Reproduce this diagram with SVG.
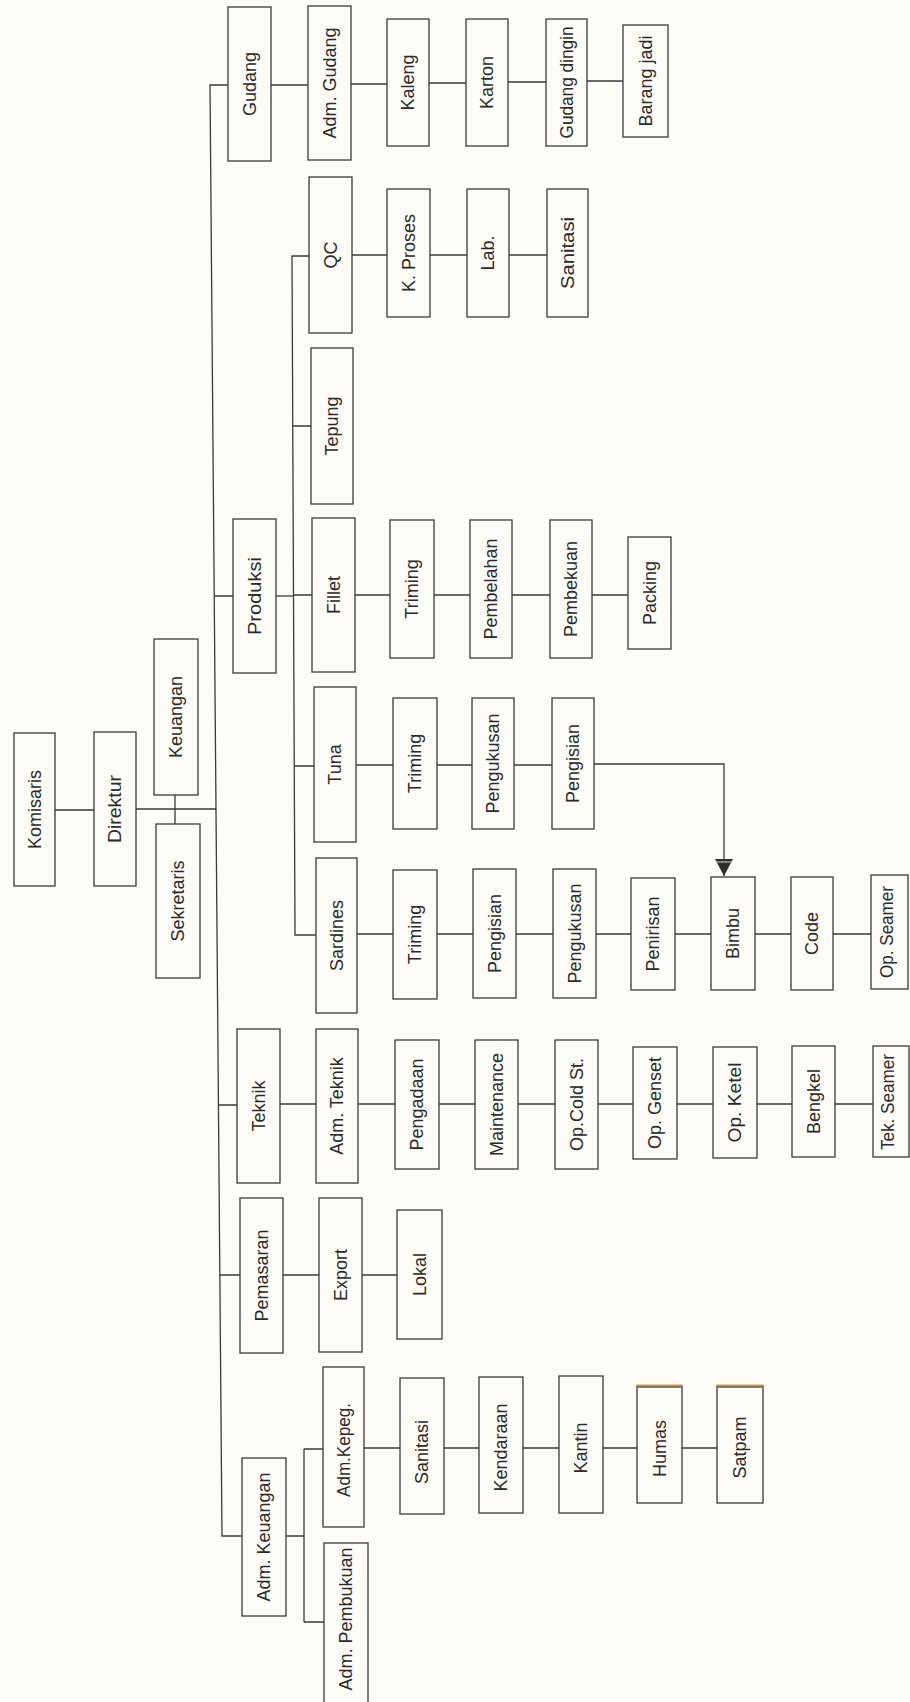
<svg xmlns="http://www.w3.org/2000/svg" width="910" height="1702" viewBox="0 0 910 1702">
<defs>
<style>
.bg{fill:#fdfcf7}
.n rect{fill:#fdfcf7;stroke:#3a3a3a;stroke-width:1.3}
.n text{font-family:"Liberation Sans",Arial,sans-serif;font-size:18px;fill:#2a2a2a;text-anchor:middle}
.c{fill:none;stroke:#3a3a3a;stroke-width:1.3}
</style>
<marker id="arr" markerUnits="userSpaceOnUse" markerWidth="20" markerHeight="20" refX="9" refY="18" orient="0" viewBox="0 0 18 20">
<path d="M0,1 H18 L9,18 Z" fill="#2e2e2e"/>
<path d="M1,4 H17" stroke="#fdfcf7" stroke-width="0.8"/>
</marker>
</defs>
<rect class="bg" x="0" y="0" width="910" height="1702"/>

<g id="connectors">
<path class="c" d="M228,85 H210 L222,1536 H242"/>
<path class="c" d="M214,596 H233 M136,809 H216 M218.4,1105 H237 M219.8,1275 H240"/>
<path class="c" d="M55,810 H94 M175,795 V824"/>
<path class="c" d="M271,85 H308 M351,84 H387 M429,83 H466 M508,82 H546 M587,81 H623"/>
<path class="c" d="M276,596 H293.5"/>
<path class="c" d="M309,256 H292 L295,935 H316 M292.5,426 H311 M293.5,595 H312 M294.2,766 H314"/>
<path class="c" d="M352,255 H387 M430,255 H467 M509,255 H547"/>
<path class="c" d="M355,595 H390 M434,595 H470 M512,595 H550 M592,595 H628"/>
<path class="c" d="M356,765 H393 M437,765 H472 M514,765 H552"/>
<path class="c" d="M594,764 H724 V876" marker-end="url(#arr)"/>
<path class="c" d="M357,934 H393 M437,934 H473 M516,934 H553 M596,934 H631 M675,934 H711 M755,934 H791 M833,934 H871"/>
<path class="c" d="M280,1104 H316 M358,1104 H395 M439,1104 H475 M518,1104 H555 M598,1104 H633 M677,1104 H713 M757,1104 H792 M835,1104 H873"/>
<path class="c" d="M283,1275 H319 M362,1275 H397"/>
<path class="c" d="M286,1536 H304 M304,1449 V1622 M304,1449 H323 M304,1622 H324"/>
<path class="c" d="M364,1448 H400 M444,1448 H479 M523,1448 H559 M603,1448 H637 M682,1448 H717"/>
</g>

<g id="komisaris" class="n"><rect x="14" y="733" width="41" height="153"/><text transform="translate(34.5,809.5) rotate(-90)" y="6">Komisaris</text></g>
<g id="direktur" class="n"><rect x="94" y="732" width="42" height="154"/><text transform="translate(115,809) rotate(-90)" y="6" textLength="68" lengthAdjust="spacingAndGlyphs">Direktur</text></g>
<g id="keuangan" class="n"><rect x="154" y="639" width="44" height="156"/><text transform="translate(176,717) rotate(-90)" y="6">Keuangan</text></g>
<g id="sekretaris" class="n"><rect x="156" y="824" width="44" height="154"/><text transform="translate(178,901) rotate(-90)" y="6">Sekretaris</text></g>

<g id="gudang" class="n"><rect x="228" y="7" width="43" height="154"/><text transform="translate(249.5,84) rotate(-90)" y="6">Gudang</text></g>
<g id="produksi" class="n"><rect x="233" y="519" width="43" height="154"/><text transform="translate(254.5,596) rotate(-90)" y="6" textLength="78" lengthAdjust="spacingAndGlyphs">Produksi</text></g>
<g id="teknik" class="n"><rect x="237" y="1029" width="43" height="154"/><text transform="translate(258.5,1106) rotate(-90)" y="6">Teknik</text></g>
<g id="pemasaran" class="n"><rect x="240" y="1198" width="43" height="155"/><text transform="translate(261.5,1275.5) rotate(-90)" y="6">Pemasaran</text></g>
<g id="adm-keuangan" class="n"><rect x="242" y="1458" width="44" height="158"/><text transform="translate(264,1537) rotate(-90)" y="6">Adm. Keuangan</text></g>

<g id="adm-gudang" class="n"><rect x="308" y="6" width="43" height="154"/><text transform="translate(329.5,83) rotate(-90)" y="6">Adm. Gudang</text></g>
<g id="kaleng" class="n"><rect x="387" y="19" width="42" height="127"/><text transform="translate(408,82.5) rotate(-90)" y="6">Kaleng</text></g>
<g id="karton" class="n"><rect x="466" y="19" width="42" height="127"/><text transform="translate(487,82.5) rotate(-90)" y="6">Karton</text></g>
<g id="gudang-dingin" class="n"><rect x="546" y="19" width="41" height="127"/><text transform="translate(566.5,82.5) rotate(-90)" y="6" textLength="112" lengthAdjust="spacingAndGlyphs">Gudang dingin</text></g>
<g id="barang-jadi" class="n"><rect x="623" y="25" width="45" height="112"/><text transform="translate(645.5,81) rotate(-90)" y="6">Barang jadi</text></g>

<g id="qc" class="n"><rect x="309" y="177" width="43" height="156"/><text transform="translate(330.5,255) rotate(-90)" y="6">QC</text></g>
<g id="k-proses" class="n"><rect x="387" y="189" width="43" height="128"/><text transform="translate(408.5,253) rotate(-90)" y="6">K. Proses</text></g>
<g id="lab" class="n"><rect x="467" y="189" width="42" height="128"/><text transform="translate(488,253) rotate(-90)" y="6">Lab.</text></g>
<g id="sanitasi-qc" class="n"><rect x="547" y="189" width="41" height="128"/><text transform="translate(567.5,253) rotate(-90)" y="6" textLength="72" lengthAdjust="spacingAndGlyphs">Sanitasi</text></g>

<g id="tepung" class="n"><rect x="311" y="348" width="42" height="156"/><text transform="translate(332,426) rotate(-90)" y="6">Tepung</text></g>

<g id="fillet" class="n"><rect x="312" y="518" width="43" height="154"/><text transform="translate(333.5,595) rotate(-90)" y="6">Fillet</text></g>
<g id="fillet-triming" class="n"><rect x="390" y="520" width="44" height="138"/><text transform="translate(412,589) rotate(-90)" y="6">Triming</text></g>
<g id="pembelahan" class="n"><rect x="470" y="520" width="42" height="138"/><text transform="translate(491,589) rotate(-90)" y="6">Pembelahan</text></g>
<g id="pembekuan" class="n"><rect x="550" y="520" width="42" height="138"/><text transform="translate(571,589) rotate(-90)" y="6">Pembekuan</text></g>
<g id="packing" class="n"><rect x="628" y="537" width="43" height="112"/><text transform="translate(649.5,593) rotate(-90)" y="6">Packing</text></g>

<g id="tuna" class="n"><rect x="314" y="687" width="42" height="155"/><text transform="translate(335,764.5) rotate(-90)" y="6">Tuna</text></g>
<g id="tuna-triming" class="n"><rect x="393" y="698" width="44" height="131"/><text transform="translate(415,763.5) rotate(-90)" y="6">Triming</text></g>
<g id="tuna-pengukusan" class="n"><rect x="472" y="698" width="42" height="131"/><text transform="translate(493,763.5) rotate(-90)" y="6">Pengukusan</text></g>
<g id="tuna-pengisian" class="n"><rect x="552" y="698" width="42" height="131"/><text transform="translate(573,763.5) rotate(-90)" y="6">Pengisian</text></g>

<g id="sardines" class="n"><rect x="316" y="858" width="41" height="155"/><text transform="translate(336.5,935.5) rotate(-90)" y="6">Sardines</text></g>
<g id="sardines-triming" class="n"><rect x="393" y="870" width="44" height="129"/><text transform="translate(415,934.5) rotate(-90)" y="6">Triming</text></g>
<g id="sardines-pengisian" class="n"><rect x="473" y="869" width="43" height="129"/><text transform="translate(494.5,933.5) rotate(-90)" y="6">Pengisian</text></g>
<g id="sardines-pengukusan" class="n"><rect x="553" y="869" width="43" height="129"/><text transform="translate(574.5,933.5) rotate(-90)" y="6">Pengukusan</text></g>
<g id="penirisan" class="n"><rect x="631" y="878" width="44" height="112"/><text transform="translate(653,934) rotate(-90)" y="6">Penirisan</text></g>
<g id="bimbu" class="n"><rect x="711" y="877" width="44" height="113"/><text transform="translate(733,933.5) rotate(-90)" y="6">Bimbu</text></g>
<g id="code" class="n"><rect x="791" y="877" width="42" height="113"/><text transform="translate(812,933.5) rotate(-90)" y="6">Code</text></g>
<g id="op-seamer" class="n"><rect x="871" y="875" width="37" height="114"/><text transform="translate(887,932) rotate(-90)" y="6" textLength="92" lengthAdjust="spacingAndGlyphs">Op. Seamer</text></g>

<g id="adm-teknik" class="n"><rect x="316" y="1029" width="42" height="154"/><text transform="translate(337,1106) rotate(-90)" y="6">Adm. Teknik</text></g>
<g id="pengadaan" class="n"><rect x="395" y="1040" width="44" height="129"/><text transform="translate(417,1104.5) rotate(-90)" y="6">Pengadaan</text></g>
<g id="maintenance" class="n"><rect x="475" y="1040" width="43" height="129"/><text transform="translate(496.5,1104.5) rotate(-90)" y="6">Maintenance</text></g>
<g id="op-cold-st" class="n"><rect x="555" y="1040" width="43" height="129"/><text transform="translate(576.5,1104.5) rotate(-90)" y="6">Op.Cold St.</text></g>
<g id="op-genset" class="n"><rect x="633" y="1047" width="44" height="112"/><text transform="translate(655,1103) rotate(-90)" y="6">Op. Genset</text></g>
<g id="op-ketel" class="n"><rect x="713" y="1047" width="44" height="111"/><text transform="translate(735,1102.5) rotate(-90)" y="6" textLength="80" lengthAdjust="spacingAndGlyphs">Op. Ketel</text></g>
<g id="bengkel" class="n"><rect x="792" y="1046" width="43" height="111"/><text transform="translate(813.5,1101.5) rotate(-90)" y="6">Bengkel</text></g>
<g id="tek-seamer" class="n"><rect x="873" y="1046" width="36" height="111"/><text transform="translate(888,1102) rotate(-90)" y="6" textLength="96" lengthAdjust="spacingAndGlyphs">Tek. Seamer</text></g>

<g id="export" class="n"><rect x="319" y="1198" width="43" height="154"/><text transform="translate(340.5,1275) rotate(-90)" y="6">Export</text></g>
<g id="lokal" class="n"><rect x="397" y="1210" width="45" height="129"/><text transform="translate(419.5,1274.5) rotate(-90)" y="6">Lokal</text></g>

<g id="adm-kepeg" class="n"><rect x="323" y="1367" width="41" height="160"/><text transform="translate(343.5,1450) rotate(-90)" y="6" textLength="94" lengthAdjust="spacingAndGlyphs">Adm.Kepeg.</text></g>
<g id="adm-pembukuan" class="n"><rect x="324" y="1543" width="44" height="165"/><text transform="translate(346,1619) rotate(-90)" y="6">Adm. Pembukuan</text></g>
<g id="sanitasi" class="n"><rect x="400" y="1378" width="44" height="136"/><text transform="translate(422,1452) rotate(-90)" y="6">Sanitasi</text></g>
<g id="kendaraan" class="n"><rect x="479" y="1377" width="44" height="136"/><text transform="translate(501,1447.5) rotate(-90)" y="6">Kendaraan</text></g>
<g id="kantin" class="n"><rect x="559" y="1376" width="44" height="137"/><text transform="translate(581,1448) rotate(-90)" y="6">Kantin</text></g>
<g id="humas" class="n"><rect x="637" y="1386" width="45" height="117"/><path d="M637,1385 H682" stroke="#f0a020" stroke-width="1.2"/><path d="M637,1387.5 H682" stroke="#5a7ae0" stroke-width="1.2"/><text transform="translate(659.5,1448.5) rotate(-90)" y="6">Humas</text></g>
<g id="satpam" class="n"><rect x="717" y="1386" width="46" height="117"/><path d="M717,1385 H763" stroke="#f0a020" stroke-width="1.2"/><path d="M717,1387.5 H763" stroke="#5a7ae0" stroke-width="1.2"/><text transform="translate(740,1447.5) rotate(-90)" y="6">Satpam</text></g>
</svg>
